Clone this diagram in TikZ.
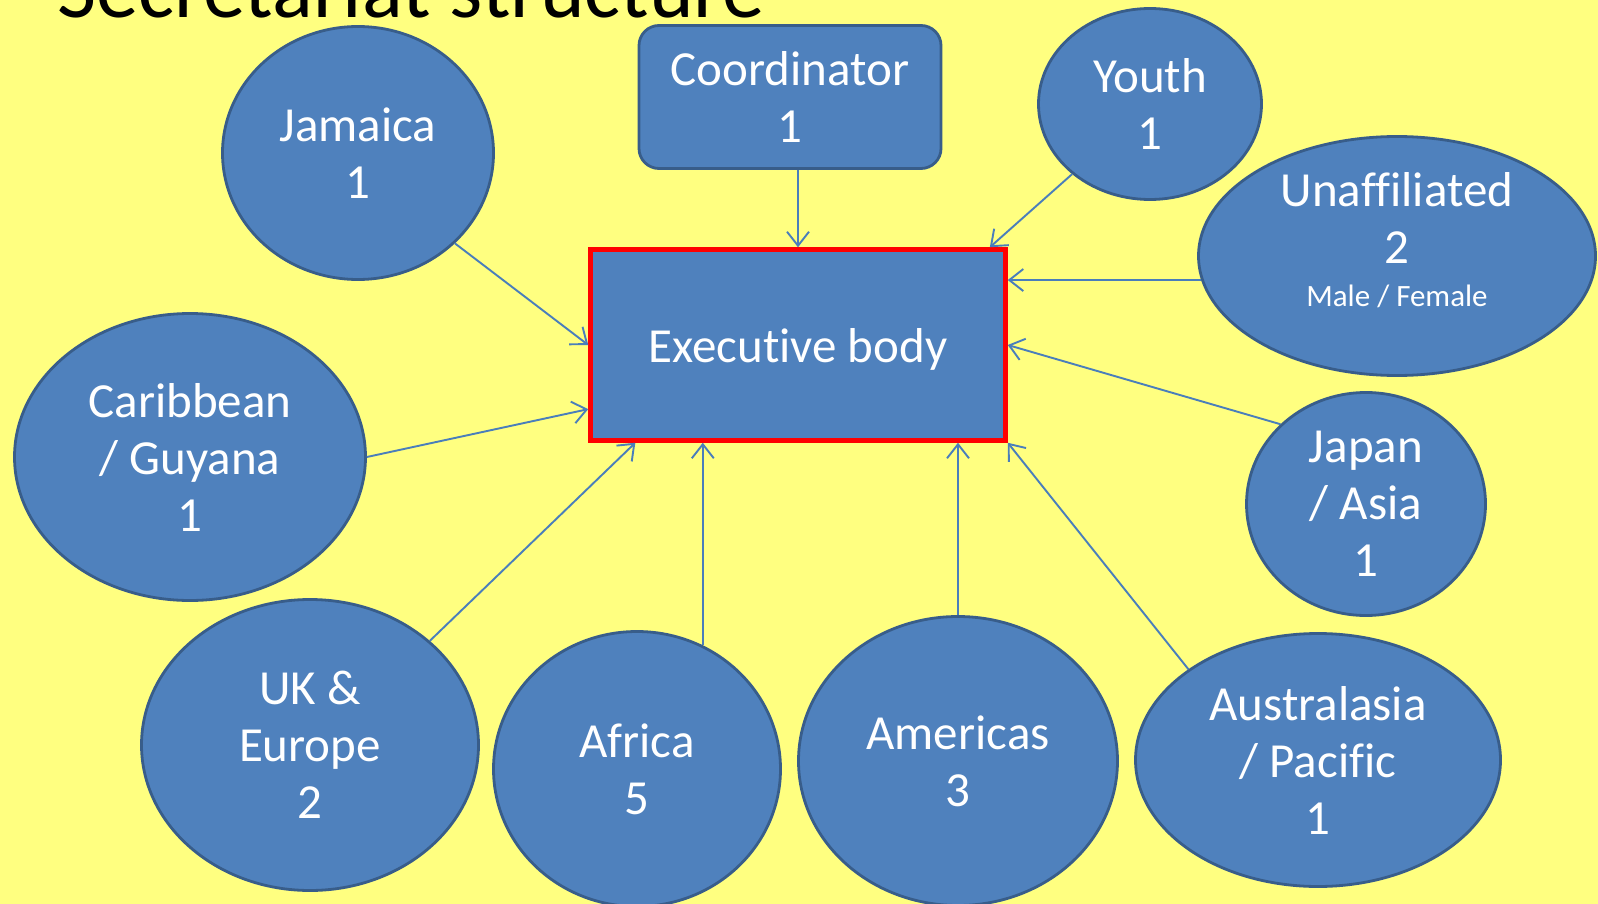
\documentclass[tikz,border=0pt]{standalone}
\usepackage{fontspec}
\setmainfont{Carlito}[Ligatures={TeX,NoCommon}]
\usetikzlibrary{shapes.geometric}
\usetikzlibrary{arrows.meta}
\definecolor{hellgelb}{RGB}{255,255,128}
\definecolor{blau}{RGB}{79,129,189}
\definecolor{dunkelblau}{RGB}{56,93,138}
\definecolor{pfeilblau}{RGB}{74,126,187}

\begin{document}
\begin{tikzpicture}[x=1pt, y=-1pt,
  gross/.style={font=\fontsize{49}{57}\selectfont},
  region/.style={ellipse, draw=dunkelblau, line width=2.8pt, fill=blau, text=white, inner sep=0pt, align=center, gross},
  pfeil/.style={draw=pfeilblau, line width=1.9pt, -{Straight Barb[length=14pt,width=22pt]}}]
% background
\fill[hellgelb] (0,0) rectangle (1598,904);
\clip (0,0) rectangle (1598,904);
\node[anchor=base west, inner sep=0pt, font=\fontsize{85}{100}\selectfont] (titel) at (57,18) {Secretariat structure};
% centre boxes
\node[draw=red, line width=4.5pt, fill=blau, text=white, minimum width=415pt, minimum height=191pt, text height=44pt, text depth=10pt, gross] (exec) at (798,345) {Executive body};
\node[draw=dunkelblau, line width=2.8pt, fill=blau, text=white, rounded corners=20pt, minimum width=302pt, minimum height=143pt, align=center, gross] (coord) at (790,97) {Coordinator\\1};
% regions
\node[region, minimum width=271pt, minimum height=253pt] (jam) at (358,153) {Jamaica\\1};
\node[region, minimum width=223pt, minimum height=191pt] (youth) at (1150,104) {Youth\\1};
\node[region, minimum width=397pt, minimum height=239pt, text depth=33pt] (unaff) at (1397,256) {Unaffiliated\\2\\[-14pt]{\fontsize{31}{37}\selectfont Male / Female}};
\node[region, minimum width=351pt, minimum height=287pt] (carib) at (190,457) {Caribbean\\/ Guyana\\1};
\node[region, minimum width=239pt, minimum height=223pt] (japan) at (1366,504) {Japan\\/ Asia\\1};
\node[region, minimum width=337pt, minimum height=291pt] (uk) at (310,745) {UK \&\\Europe\\2};
\node[region, minimum width=287pt, minimum height=275pt] (africa) at (637,769) {Africa\\5};
\node[region, minimum width=319pt, minimum height=289pt] (amer) at (958,761) {Americas\\3};
\node[region, minimum width=365pt, minimum height=253pt] (aust) at (1318,760) {Australasia\\/ Pacific\\1};
% arrows
\draw[pfeil] (coord.south -| exec.north) -- (exec.north);
\draw[pfeil] (jam.-43) -- (exec.west);
\draw[pfeil] (youth.222) -- (exec.27);
\draw[pfeil] (unaff.187) -- (unaff.187 -| exec.east);
\draw[pfeil] (japan.137) -- (exec.east);
\draw[pfeil] (carib.east) -- (exec.197);
\draw[pfeil] (uk.41) -- (exec.211);
\draw[pfeil] (africa.62) -- (africa.62 |- exec.south);
\draw[pfeil] (amer.north) -- (amer.north |- exec.south);
\draw[pfeil] (aust.145) -- (exec.south east);
\end{tikzpicture}
\end{document}
